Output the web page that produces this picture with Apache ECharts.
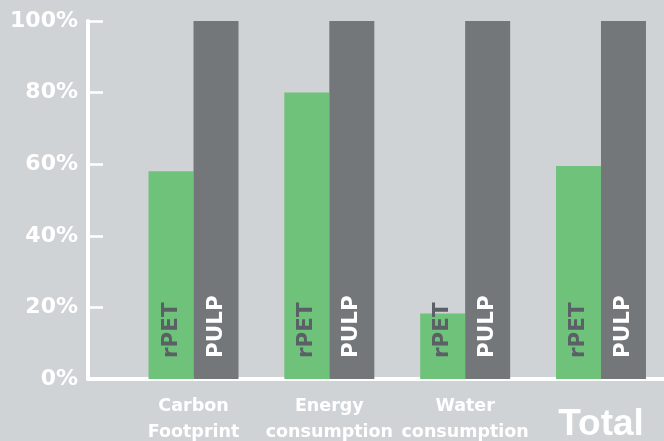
<!DOCTYPE html>
<html>
<head>
<meta charset="utf-8">
<script src="https://cdn.jsdelivr.net/npm/echarts@6/dist/echarts.min.js"></script>
<style>
html,body{margin:0;padding:0;background:#d0d3d6;}
#c{width:664px;height:441px;}
</style>
</head>
<body>
<div id="c"></div>
<script>
const categories = ['Carbon\nFootprint', 'Energy\nconsumption', 'Water\nconsumption', 'Total'];
const rpetValues = [58, 80, 18.3, 59.5];
const pulpValues = [100, 100, 100, 100];
const seriesNames = ['rPET', 'PULP'];
const yTicks = [0, 20, 40, 60, 80, 100];

const FONT = 'DejaVu Sans';
const chart = echarts.init(document.getElementById('c'), null, {renderer: 'canvas'});
const TOP = 21, BOTTOM = 62;
chart.setOption({
  backgroundColor: '#d0d3d6',
  animation: false,
  grid: [
    {left: 88, right: 0, top: TOP, bottom: BOTTOM, outerBoundsMode: 'none', containLabel: false},
    {left: 125.6, width: 543.3, top: TOP, bottom: BOTTOM, outerBoundsMode: 'none', containLabel: false}
  ],
  xAxis: [
    {gridIndex: 0, type: 'category', data: [''], axisLine: {lineStyle: {color: '#ffffff', width: 4}},
     axisTick: {show: false}, axisLabel: {show: false}},
    {gridIndex: 1, type: 'category', data: categories, axisLine: {show: false}, axisTick: {show: false},
     axisLabel: {
       margin: 14, color: '#ffffff', fontFamily: FONT, fontWeight: 'bold', fontSize: 17.5, lineHeight: 26,
       interval: 0,
       formatter: function (v) { return v === 'Total' ? '{big|Total}' : v; },
       rich: {big: {fontFamily: 'Liberation Sans', fontWeight: 'bold', fontSize: 37, lineHeight: 63, color: '#ffffff'}}
     }}
  ],
  yAxis: [
    {gridIndex: 0, type: 'value', min: yTicks[0], max: yTicks[yTicks.length - 1], interval: 20,
     axisLine: {show: true, lineStyle: {color: '#ffffff', width: 4}},
     axisTick: {show: true, inside: true, length: 15, lineStyle: {color: '#ffffff', width: 2.5}},
     splitLine: {show: false},
     axisLabel: {margin: 10, color: '#ffffff', fontFamily: FONT, fontWeight: 'bold', fontSize: 22,
       formatter: '{value}%'}},
    {gridIndex: 1, type: 'value', min: 0, max: 100, show: false, splitLine: {show: false}}
  ],
  series: [
    {name: seriesNames[0], type: 'bar', xAxisIndex: 1, yAxisIndex: 1, data: rpetValues,
     barWidth: 45, barGap: '0%', itemStyle: {color: '#6fc27a'},
     label: {show: true, formatter: '{a}', position: 'insideBottom', rotate: 90, align: 'left',
       verticalAlign: 'middle', distance: 21, color: '#5a6065', fontFamily: FONT, fontWeight: 'bold', fontSize: 21.5}},
    {name: seriesNames[1], type: 'bar', xAxisIndex: 1, yAxisIndex: 1, data: pulpValues,
     barWidth: 45, barGap: '0%', itemStyle: {color: '#73777a'},
     label: {show: true, formatter: '{a}', position: 'insideBottom', rotate: 90, align: 'left',
       verticalAlign: 'middle', distance: 21, color: '#ffffff', fontFamily: FONT, fontWeight: 'bold', fontSize: 21.5}}
  ]
});
</script>
</body>
</html>
